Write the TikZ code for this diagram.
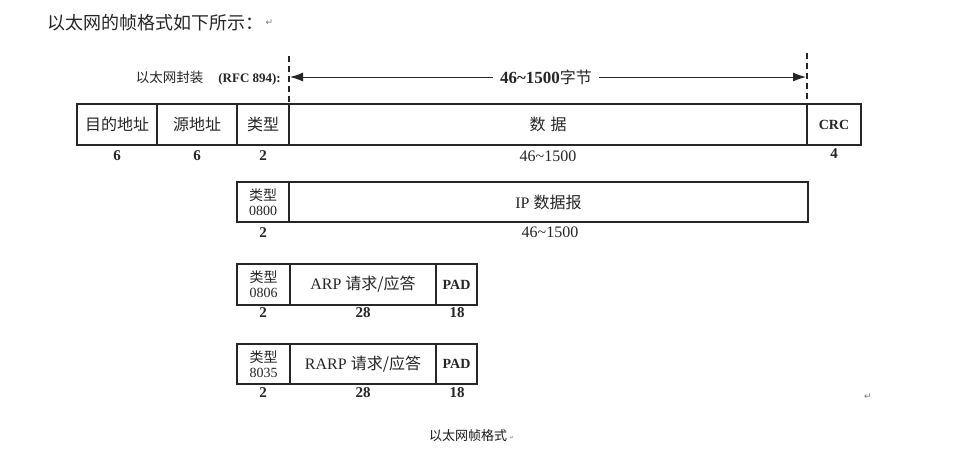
\documentclass[tikz,border=0pt]{standalone}
\usepackage{fontspec}
\setmainfont{Liberation Serif}
\newfontfamily\zhfont{Noto Sans CJK SC}
\newfontfamily\markfont{DejaVu Sans}
\usetikzlibrary{arrows.meta}

\tikzset{
  field/.style={draw=black!85, line width=1.2pt, inner sep=0pt, outer sep=0pt,
    text=black!85, font=\fontsize{16}{18}\selectfont},
  num/.style={inner sep=0pt, text=black!85, font=\bfseries\fontsize{15}{17}\selectfont},
  numr/.style={inner sep=0pt, text=black!85, font=\fontsize{16}{18}\selectfont},
  retmark/.style={inner sep=0pt, text=black!55, font=\markfont\fontsize{9}{10}\selectfont},
  bound/.style={draw=black!85, line width=1.2pt, dash pattern=on 6pt off 4pt},
  span/.style={draw=black!85, line width=1pt, -{Latex[length=13pt,width=9pt]}},
}

\begin{document}
\begin{tikzpicture}[x=1pt,y=-1pt]
\useasboundingbox[fill=white] (0,0) rectangle (960,453);
% Title line
\node[anchor=west, inner sep=0pt, text=black!85, font=\zhfont\fontsize{18}{21}\selectfont] (title) at (47,23) {以太网的帧格式如下所示：};
\node[retmark, anchor=west] (ret1) at (title.east) {\hspace{2pt}↵};
% Encapsulation and data length
\node[anchor=east, inner sep=0pt, text=black!85] (enc) at (281,78)
  {\zhfont\fontsize{13.5}{15}\selectfont 以太网封装\hspace{15pt}\rmfamily\bfseries\fontsize{13}{15}\selectfont(RFC 894):};
\coordinate (lbound) at (289,56);
\coordinate (rbound) at (807,53);
\coordinate (larr) at (290,77);
\coordinate (rarr) at (806,77);
\node[inner sep=0pt, inner xsep=7pt, text=black!85] (len) at (546,77)
  {\bfseries\fontsize{17}{19}\selectfont 46\textasciitilde1500\zhfont\mdseries\fontsize{16}{18}\selectfont 字节};
\draw[span] (len) -- (larr);
\draw[span] (len) -- (rarr);
% Ethernet frame
\node[field, minimum width=80pt, minimum height=41pt] (dst) at (117,124.5) {\zhfont 目的地址};
\node[field, minimum width=80pt, minimum height=41pt] (src) at (197,124.5) {\zhfont 源地址};
\node[field, minimum width=52pt, minimum height=41pt] (type) at (263,124.5) {\zhfont 类型};
\node[field, minimum width=518pt, minimum height=41pt] (data) at (548,124.5) {\zhfont 数\hspace{5pt}据\hspace{16pt}};
\node[field, minimum width=54pt, minimum height=41pt, font=\bfseries\fontsize{14}{16}\selectfont] (crc) at (834,124.5) {CRC};
\draw[bound] (lbound) -- (data.north west);
\draw[bound] (rbound) -- (data.north east);
\node[num] (dstlen) at (117,156) {6};
\node[num] (srclen) at (197,156) {6};
\node[num] (typelen) at (263,156) {2};
\node[numr] (datalen) at (548,156) {46\textasciitilde1500};
\node[num] (crclen) at (834,154) {4};
% IP datagram
\node[field, minimum width=52pt, minimum height=40pt, align=center, font=\fontsize{14}{15}\selectfont] (iptype) at (263,202) {{\zhfont 类型}\\0800};
\node[field, minimum width=519pt, minimum height=40pt] (ipdata) at (548.5,202) {IP \zhfont 数据报\hspace{22pt}};
\node[num] (iptypelen) at (263,233) {2};
\node[numr] (ipdatalen) at (550,232) {46\textasciitilde1500};
% ARP request/reply
\node[field, minimum width=53pt, minimum height=41pt, align=center, font=\fontsize{14}{15}\selectfont] (arptype) at (263.5,284.5) {{\zhfont 类型}\\0806};
\node[field, minimum width=146pt, minimum height=41pt] (arp) at (363,284.5) {ARP \zhfont 请求/应答};
\node[field, minimum width=41pt, minimum height=41pt, font=\bfseries\fontsize{14}{16}\selectfont] (arppad) at (456.5,284.5) {PAD};
\node[num] (arptypelen) at (263,313) {2};
\node[num] (arplen) at (363,313) {28};
\node[num] (arppadlen) at (457,313) {18};
% RARP request/reply
\node[field, minimum width=53pt, minimum height=40pt, align=center, font=\fontsize{14}{15}\selectfont] (rarptype) at (263.5,364) {{\zhfont 类型}\\8035};
\node[field, minimum width=146pt, minimum height=40pt] (rarp) at (363,364) {RARP \zhfont 请求/应答};
\node[field, minimum width=41pt, minimum height=40pt, font=\bfseries\fontsize{14}{16}\selectfont] (rarppad) at (456.5,364) {PAD};
\node[num] (rarptypelen) at (263,393) {2};
\node[num] (rarplen) at (363,393) {28};
\node[num] (rarppadlen) at (457,393) {18};
% Caption
\node[retmark] (ret2) at (868,397) {↵};
\node[inner sep=0pt, text=black!90, font=\zhfont\fontsize{13}{15}\selectfont] (caption) at (468,436) {以太网帧格式};
\node[retmark, font=\markfont\fontsize{5}{6}\selectfont] (ret3) at (512,438) {↵};
\end{tikzpicture}
\end{document}
